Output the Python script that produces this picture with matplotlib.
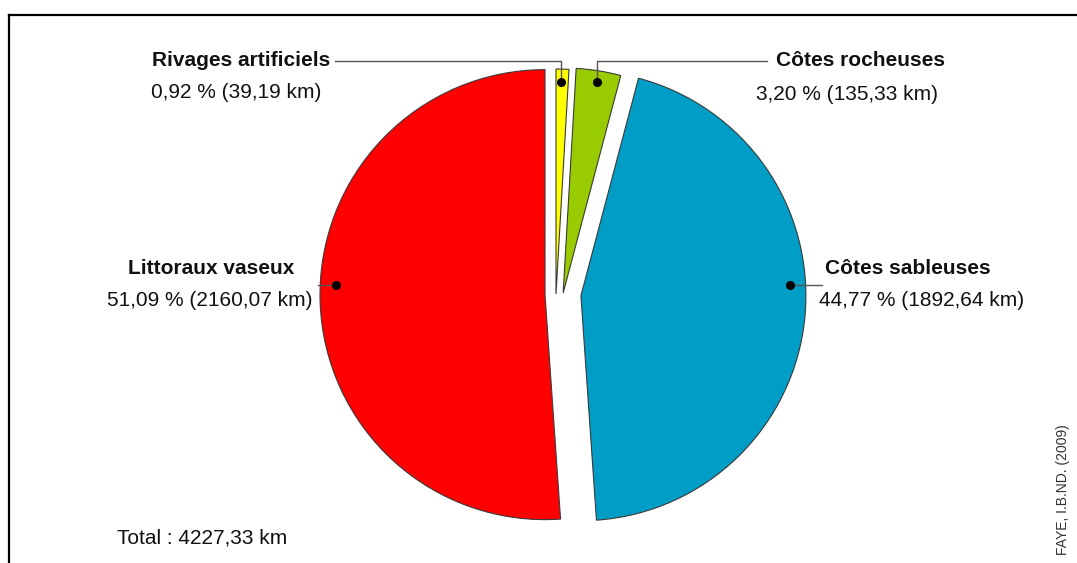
import matplotlib.pyplot as plt
import numpy as np

# Senegal coastline by type
types = ['Rivages artificiels', 'Côtes rocheuses', 'Côtes sableuses', 'Littoraux vaseux']
percents = [0.92, 3.20, 44.77, 51.09]
lengths_km = ['39,19', '135,33', '1892,64', '2160,07']
pct_labels = ['0,92', '3,20', '44,77', '51,09']
colors = ['#FFFF00', '#99CC00', '#009EC6', '#FF0000']
total_label = 'Total : 4227,33 km'
source = 'FAYE, I.B.ND. (2009)'

plt.rcParams['font.family'] = ['Liberation Sans', 'DejaVu Sans']

W, H = 1077, 563
fig = plt.figure(figsize=(W / 100, H / 100), dpi=100)
ax = fig.add_axes([0, 0, 1, 1])

# pie in pixel coordinates (y axis flipped below); explode is in same units
cx, cy, R = 563, 294, 225
wedges, _ = ax.pie(percents, colors=colors, radius=R, center=(cx, cy),
                   startangle=-90, counterclock=True, frame=True,
                   explode=[0, 1, 18, 18],
                   wedgeprops=dict(edgecolor='#3a3a3a', linewidth=0.8))
# small nudge so the two thin slices separate like the original
wedges[0].set_center((wedges[0].center[0] - 7, wedges[0].center[1]))

ax.set_xlim(0, W)
ax.set_ylim(H, 0)
ax.set_aspect('equal')
ax.axis('off')

# frame (top and left edges of the original box)
ax.plot([8.5, W], [14.5, 14.5], color='black', lw=1.6, clip_on=False)
ax.plot([8.5, 8.5], [14.5, H], color='black', lw=1.6, clip_on=False)

# leader lines and dots
line_kw = dict(color='#555555', lw=1)
leaders = [
    ([335, 561, 561], [61, 61, 82]),
    ([767, 597, 597], [61, 61, 82]),
    ([790, 822], [285, 285]),
    ([318, 336], [285, 285]),
]
dots = [(561, 82), (597, 82), (790, 285), (336, 285)]
for (xs, ys), (dx, dy) in zip(leaders, dots):
    ax.plot(xs, ys, **line_kw)
    ax.plot(dx, dy, 'o', color='black', ms=5.5)

# labels: (bold name position, value position)
label_pos = [
    ((152, 60), (151, 92)),
    ((776, 61), (756, 94)),
    ((825, 269), (819, 301)),
    ((128, 269), (107, 300)),
]
for name, pct, km, (p1, p2) in zip(types, pct_labels, lengths_km, label_pos):
    ax.text(p1[0], p1[1], name, fontsize=15, fontweight='bold', color='#111111',
            ha='left', va='center')
    ax.text(p2[0], p2[1], f'{pct} % ({km} km)', fontsize=15, color='#111111',
            ha='left', va='center')

ax.text(117, 538, total_label, fontsize=15, color='#111111', ha='left', va='center')
ax.text(1063, 490, source, fontsize=10, color='#333333', rotation=90,
        ha='center', va='center')

fig.savefig('out.png', dpi=100)
